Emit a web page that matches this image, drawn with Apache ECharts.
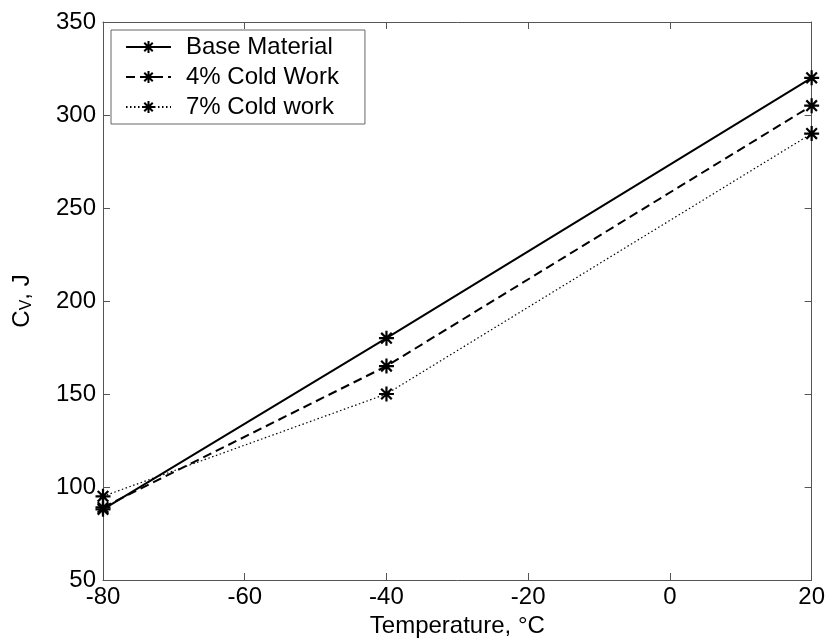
<!DOCTYPE html>
<html>
<head>
<meta charset="utf-8">
<script src="https://cdn.jsdelivr.net/npm/echarts@6/dist/echarts.min.js"></script>
<style>
  html, body { margin: 0; padding: 0; background: #fff; }
  #chart { width: 828px; height: 643px; }
</style>
</head>
<body>
<div id="chart"></div>
<script>
// Charpy impact energy vs test temperature
const temperatures = [-80, -40, 20];
const baseMaterial = [88, 180, 320];
const coldWork4 = [89, 165, 305];
const coldWork7 = [95, 150, 290];
const seriesNames = ['Base Material', '4% Cold Work', '7% Cold work'];

const FONT = 'Liberation Sans, Arial, sans-serif';
// eight-armed asterisk marker (stroked)
const ASTERISK = 'path://M0,-10L0,10M-10,0L10,0M-7.07,-7.07L7.07,7.07M-7.07,7.07L7.07,-7.07';

function pairs(ys) {
  return temperatures.map((t, i) => [t, ys[i]]);
}

function makeSeries(name, ys, type, width) {
  return {
    name: name,
    type: 'line',
    data: pairs(ys),
    symbol: ASTERISK,
    symbolSize: 15,
    showAllSymbol: true,
    itemStyle: { color: 'none', borderColor: '#000', borderWidth: 2.2 },
    lineStyle: { color: '#000', width: width, type: type },
    emphasis: { disabled: true },
    animation: false
  };
}

const chart = echarts.init(document.getElementById('chart'), null, { renderer: 'canvas' });

function frameAxis(extra) {
  return Object.assign({
    axisLine: { show: true, onZero: false, lineStyle: { color: '#555', width: 1 } },
    axisTick: { show: true, inside: true, length: 7, lineStyle: { color: '#555' } },
    splitLine: { show: false }
  }, extra);
}

chart.setOption({
  backgroundColor: '#fff',
  animation: false,
  grid: { left: 103, right: 14, top: 22, bottom: 63 },
  legend: {
    left: 111, top: 30,
    orient: 'vertical',
    data: seriesNames,
    itemWidth: 45, itemHeight: 15, itemGap: 6,
    padding: [5, 26, 5, 14],
    borderColor: '#666', borderWidth: 1,
    backgroundColor: '#fff',
    textStyle: { fontFamily: FONT, fontSize: 24, color: '#000', padding: [0, 0, 0, 10] },
    selectedMode: false
  },
  xAxis: [
    frameAxis({
      type: 'value', min: -80, max: 20, interval: 20, position: 'bottom',
      axisLabel: { fontFamily: FONT, fontSize: 24, color: '#000', margin: 5 },
      name: 'Temperature, °C', nameLocation: 'middle', nameGap: 33,
      nameTextStyle: { fontFamily: FONT, fontSize: 24, color: '#000' }
    }),
    frameAxis({
      type: 'value', min: -80, max: 20, interval: 20, position: 'top',
      axisLabel: { show: false }
    })
  ],
  yAxis: [
    frameAxis({
      type: 'value', min: 50, max: 350, interval: 50, position: 'left',
      axisLabel: { fontFamily: FONT, fontSize: 24, color: '#000', margin: 7 },
      name: '{a|C}{s|V}{a|, J}', nameLocation: 'middle', nameGap: 68, nameRotate: 90,
      nameTextStyle: {
        rich: {
          a: { fontFamily: FONT, fontSize: 24, color: '#000' },
          s: { fontFamily: FONT, fontSize: 16, color: '#000', verticalAlign: 'bottom', padding: [10, 0, 0, 0] }
        }
      }
    }),
    frameAxis({
      type: 'value', min: 50, max: 350, interval: 50, position: 'right',
      axisLabel: { show: false }
    })
  ],
  series: [
    makeSeries(seriesNames[0], baseMaterial, 'solid', 2),
    makeSeries(seriesNames[1], coldWork4, [9, 5], 2),
    makeSeries(seriesNames[2], coldWork7, [1.5, 2.5], 1.2)
  ]
});
</script>
</body>
</html>
